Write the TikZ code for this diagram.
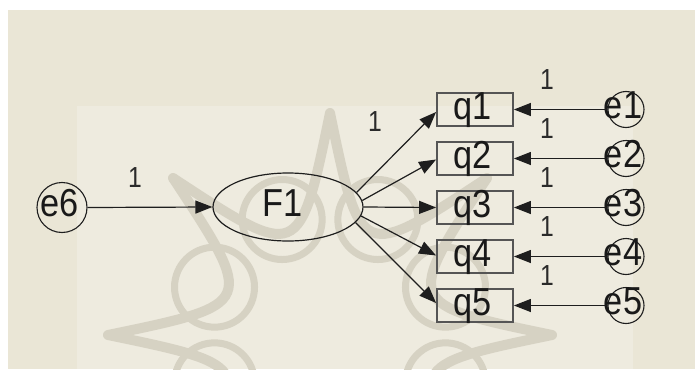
\documentclass[tikz,border=0pt]{standalone}
\usepackage{fontspec}
\setmainfont{Liberation Sans}
\newfontfamily\amosfont[FakeStretch=0.88]{Liberation Sans}
\newfontfamily\amoslab[FakeStretch=0.85]{Liberation Sans}
\usetikzlibrary{arrows.meta,shapes.geometric}
\definecolor{bgout}{HTML}{EAE6D6}
\definecolor{bgin}{HTML}{EEEBDF}
\definecolor{wm}{HTML}{D6D2C3}
\definecolor{linecol}{HTML}{1E1E1E}
\definecolor{boxgray}{HTML}{555555}
\definecolor{labcol}{HTML}{2A2A2A}
\begin{document}
\begin{tikzpicture}[x=1pt,y=-1pt,
  obs/.style={draw=boxgray, line width=1.8pt, minimum width=76pt, minimum height=33pt, inner sep=0pt},
  lat/.style={ellipse, draw=linecol, line width=1.2pt, minimum width=150pt, minimum height=68pt, inner sep=0pt},
  err/.style={circle, draw=linecol, line width=1.1pt, minimum size=36pt, inner sep=0pt},
  bigerr/.style={circle, draw=linecol, line width=1.1pt, minimum size=50pt, inner sep=0pt},
  conn/.style={draw=linecol, line width=1.2pt, -{Triangle[length=17pt,width=13pt]}},
  vtext/.style={font=\amosfont\fontsize{39}{42}\selectfont, text=black!90, inner sep=0pt, anchor=base},
  lab/.style={font=\amoslab\fontsize{29}{31}\selectfont, text=labcol, inner sep=0pt}]
\useasboundingbox (0,0) rectangle (695,369);
\fill[white] (0,0) rectangle (695,369);
\fill[bgout] (8,10) rectangle (695,369);
\fill[bgin] (77,106) rectangle (633,369);
% watermark
\begin{scope}
\clip (77,106) rectangle (633,369);
\begin{scope}[shift={(330,335)}]
\foreach \a in {0,45,...,315} {
  \draw[wm, line width=10pt, line cap=round] (\a:222) .. controls (\a+22.5:80) .. (\a+45:222);
  \draw[wm, line width=7pt] (\a+22.5:125) circle (40);
}
\end{scope}
\end{scope}
% shapes
\node[bigerr] (e6) at (62,207.5) {};
\node[lat] (F1) at (288,207) {};
\foreach \i/\y in {1/109.5,2/158.5,3/207.5,4/256.5,5/305.5} {
  \node[obs] (q\i) at (475,\y) {};
  \node[err] (e\i) at (626,\y) {};
}
% texts
\node[vtext] (te6) at (60,216) {e6};
\node[vtext] (tF1) at (283,216) {F1};
\foreach \i/\y in {1/109.5,2/158.5,3/207.5,4/256.5,5/305.5} {
  \node[vtext] (tq\i) at (472.5,\y+10) {q\i};
  \node[vtext] (te\i) at (623,\y+8.5) {e\i};
  \node[lab] (le\i) at (547,\y-30) {1};
}
% connectors
\draw[conn] (e6.east) -- (F1.west);
\draw[conn] (F1.12) -- ([yshift=-2.5pt]q1.west);
\draw[conn] (F1.5) -- ([yshift=-1pt]q2.west);
\draw[conn] (F1.0) -- (q3.west);
\draw[conn] (F1.-7) -- ([yshift=1pt]q4.west);
\draw[conn] (F1.-13) -- ([yshift=2.5pt]q5.west);
\foreach \i in {1,...,5} {
  \draw[conn] (e\i.west) -- (q\i.east);
}
\node[lab] (l6) at (135,178) {1};
\node[lab] (l1) at (375,122) {1};
\end{tikzpicture}
\end{document}
